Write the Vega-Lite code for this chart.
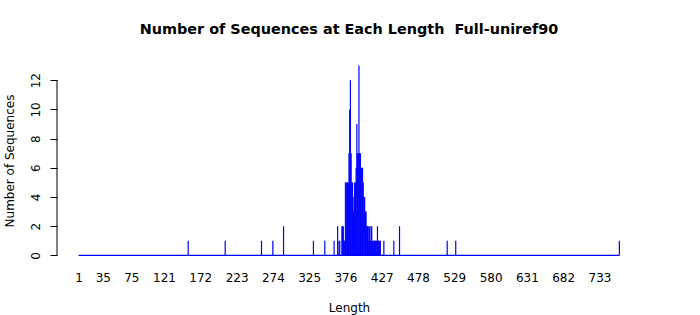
{
  "$schema": "https://vega.github.io/schema/vega-lite/v6.json",
  "width": 584,
  "height": 205,
  "autosize": {"type": "none"},
  "padding": {"left": 57, "top": 58, "right": 59, "bottom": 52},
  "background": "white",
  "config": {
    "view": {"stroke": null},
    "font": "DejaVu Sans",
    "axis": {"labelOverlap": false, "labelFlush": false, "labelBound": false}
  },
  "title": {
    "text": "Number of Sequences at Each Length \u00a0Full-uniref90",
    "font": "DejaVu Sans",
    "fontSize": 14.4,
    "fontWeight": "bold",
    "color": "#000000",
    "anchor": "middle",
    "baseline": "alphabetic",
    "offset": 10
  },
  "data": {
    "values": [
      {"len": 155, "n": 1}, {"len": 207, "n": 1}, {"len": 258, "n": 1}, {"len": 274, "n": 1},
      {"len": 289, "n": 2}, {"len": 331, "n": 1}, {"len": 347, "n": 1}, {"len": 360, "n": 1},
      {"len": 365, "n": 2}, {"len": 367, "n": 1}, {"len": 368, "n": 1}, {"len": 371, "n": 2},
      {"len": 372, "n": 2}, {"len": 373, "n": 2}, {"len": 374, "n": 1}, {"len": 375, "n": 1},
      {"len": 376, "n": 5}, {"len": 377, "n": 5}, {"len": 378, "n": 5}, {"len": 379, "n": 5},
      {"len": 380, "n": 5}, {"len": 381, "n": 7}, {"len": 382, "n": 10}, {"len": 383, "n": 12},
      {"len": 384, "n": 7}, {"len": 385, "n": 5}, {"len": 386, "n": 5}, {"len": 387, "n": 3},
      {"len": 388, "n": 4}, {"len": 389, "n": 5}, {"len": 390, "n": 5}, {"len": 391, "n": 6},
      {"len": 392, "n": 9}, {"len": 393, "n": 7}, {"len": 394, "n": 7}, {"len": 395, "n": 13},
      {"len": 396, "n": 7}, {"len": 397, "n": 7}, {"len": 398, "n": 6}, {"len": 399, "n": 6},
      {"len": 400, "n": 6}, {"len": 401, "n": 5}, {"len": 402, "n": 4}, {"len": 403, "n": 4},
      {"len": 404, "n": 3}, {"len": 405, "n": 3}, {"len": 406, "n": 2}, {"len": 407, "n": 2},
      {"len": 408, "n": 2}, {"len": 409, "n": 1}, {"len": 410, "n": 2}, {"len": 411, "n": 1},
      {"len": 412, "n": 2}, {"len": 413, "n": 2}, {"len": 414, "n": 1}, {"len": 415, "n": 1},
      {"len": 416, "n": 1}, {"len": 417, "n": 1}, {"len": 418, "n": 1}, {"len": 419, "n": 1},
      {"len": 420, "n": 1}, {"len": 421, "n": 2}, {"len": 422, "n": 1}, {"len": 423, "n": 1},
      {"len": 424, "n": 1}, {"len": 425, "n": 1}, {"len": 430, "n": 1}, {"len": 444, "n": 1},
      {"len": 452, "n": 2}, {"len": 519, "n": 1}, {"len": 531, "n": 1}, {"len": 761, "n": 1}
    ]
  },
  "layer": [
    {
      "mark": {"type": "rule", "color": "#0000ff", "strokeWidth": 1.2},
      "encoding": {
        "x": {
          "field": "len",
          "type": "quantitative",
          "scale": {"domain": [-29.4, 791.4], "nice": false, "zero": false},
          "axis": {
            "values": [1, 35, 75, 121, 172, 223, 274, 325, 376, 427, 478, 529, 580, 631, 682, 733],
            "tickCount": 40,
            "format": "d",
            "domain": false,
            "ticks": false,
            "grid": false,
            "labelPadding": 9,
            "labelFont": "DejaVu Sans",
            "labelFontSize": 12,
            "labelColor": "#000000",
            "labelOverlap": false,
            "labelFlush": false,
            "title": "Length",
            "titleFont": "DejaVu Sans",
            "titleFontSize": 12,
            "titleFontWeight": "normal",
            "titleColor": "#000000",
            "titlePadding": 19
          }
        },
        "y": {
          "field": "n",
          "type": "quantitative",
          "scale": {"domain": [-0.52, 13.52], "nice": false, "zero": false},
          "axis": {
            "values": [0, 2, 4, 6, 8, 10, 12],
            "tickCount": 20,
            "format": "d",
            "domain": false,
            "grid": false,
            "tickSize": 7,
            "tickColor": "#000000",
            "labelAngle": 270,
            "labelAlign": "center",
            "labelBaseline": "bottom",
            "labelPadding": 8,
            "labelOverlap": false,
            "labelFont": "DejaVu Sans",
            "labelFontSize": 12,
            "labelColor": "#000000",
            "title": "Number of Sequences",
            "titleFont": "DejaVu Sans",
            "titleFontSize": 12,
            "titleFontWeight": "normal",
            "titleColor": "#000000",
            "titlePadding": 13
          }
        },
        "y2": {"datum": 0}
      }
    },
    {
      "data": {"values": [{"a": 1}]},
      "mark": {"type": "rule", "color": "#0000ff", "strokeWidth": 1.2},
      "encoding": {
        "x": {"datum": 1, "type": "quantitative"},
        "x2": {"datum": 761},
        "y": {"datum": 0, "type": "quantitative"}
      }
    },
    {
      "data": {"values": [{"a": 1}]},
      "mark": {"type": "rule", "color": "#000000", "strokeWidth": 1},
      "encoding": {
        "x": {"datum": -29.4, "type": "quantitative"},
        "y": {"datum": 0, "type": "quantitative"},
        "y2": {"datum": 12}
      }
    }
  ]
}
